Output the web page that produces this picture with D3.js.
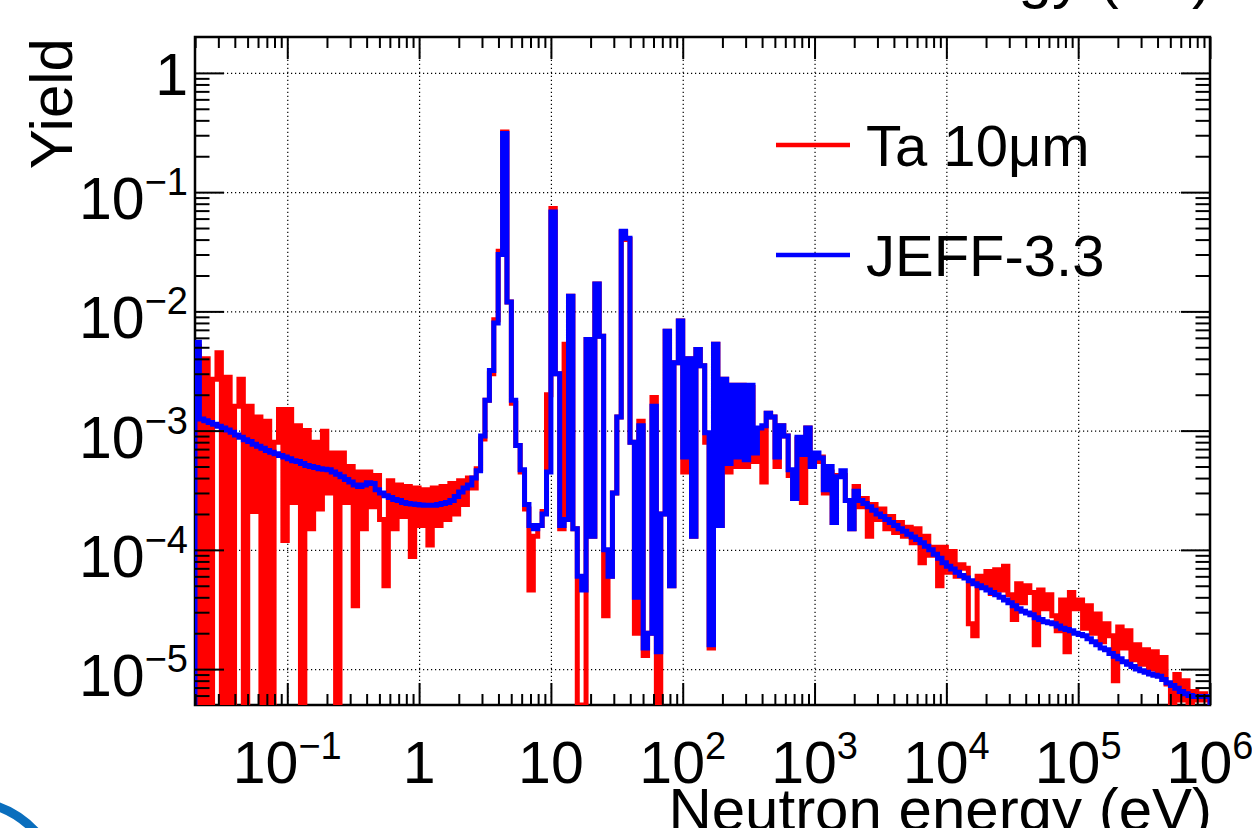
<!DOCTYPE html>
<html>
<head>
<meta charset="utf-8">
<script src="https://cdn.jsdelivr.net/npm/d3@7"></script>
<style>
html,body{margin:0;padding:0;background:#fff;}
svg{display:block;}
text{font-family:"Liberation Sans", Arial, Helvetica, sans-serif; fill:#000;}
</style>
</head>
<body>
<svg id="chart" width="1252" height="828"></svg>
<script>
// ---------- data ----------
const binsPerDecade = 30;          // log-uniform histogram binning
const logEnergyMin = -1.7;         // lower edge of first bin: 10^-1.7 eV
const energyMax = 1e6;
const yieldMin = 5e-6, yieldMax = 2;

// Ta 10um measurement (red), one value per bin
const taYield = [
  5.1e-3, 0, 4.0e-3, 0, 2.7e-3, 4.5e-3, 0, 2.8e-3, 0, 1.6e-3,
  2.7e-3, 0, 1.6e-3, 2.1e-4, 1.3e-3, 0, 1.2e-3, 0, 8e-4, 1.5e-3,
  1.2e-4, 1.5e-3, 2.5e-4, 1.1e-3, 0, 1.0e-3, 1.5e-4, 8e-4, 2.2e-4, 9.9e-4,
  3e-4, 6.5e-4, 0, 6.5e-4, 2.5e-4, 5e-4, 3.4e-5, 4.5e-4, 1.5e-4, 4.5e-4,
  2.3e-4, 4.2e-4, 1.8e-4, 5e-5, 3.8e-4, 1.5e-4, 3.5e-4, 1.9e-4, 3.4e-4, 8.8e-5,
  3.3e-4, 1.6e-4, 3.2e-4, 1.1e-4, 3.3e-4, 1.6e-4, 3.4e-4, 1.8e-4, 3.6e-4, 2.0e-4,
  3.8e-4, 2.4e-4, 4.0e-4, 3.3e-4, 4.8e-4, 8.5e-4, 1.8e-3, 3.0e-3, 8.5e-3, 3.2e-2,
  0.32, 1.2e-2, 1.7e-3, 7.5e-4, 4.5e-4, 2.2e-4, 4.6e-5, 1.3e-4, 1.6e-4, 2.1e-4,
  2.0e-3, 7.3e-2, 3e-3, 1.5e-4, 5.3e-3, 1.34e-2, 1.5e-4, 0, 0, 5.8e-3,
  1.3e-4, 1.7e-2, 6.2e-3, 2.8e-5, 6e-5, 3e-4, 1.3e-3, 4.6e-2, 4.0e-2, 8e-4,
  2.0e-5, 1.2e-3, 1.3e-5, 2e-5, 1.9e-3, 0, 2e-4, 6.8e-3, 5e-5, 3.7e-3,
  8.3e-3, 4.5e-4, 4e-3, 1.3e-4, 4.8e-3, 3.5e-3, 8e-4, 1.5e-5, 5.3e-3, 1.6e-4,
  2.7e-3, 4.5e-4, 2.4e-3, 5e-4, 2.4e-3, 5e-4, 2.3e-3, 5.5e-4, 1.0e-3, 3.7e-4,
  1.4e-3, 1.3e-3, 5e-4, 1.1e-3, 9e-4, 4.2e-4, 2.7e-4, 8.5e-4, 2.5e-4, 1.05e-3,
  5e-4, 5.5e-4, 6e-4, 3e-4, 4.5e-4, 1.7e-4, 4.2e-4, 4.2e-4, 2.6e-4, 1.5e-4,
  3.4e-4, 2.3e-4, 2.7e-4, 1.3e-4, 2.4e-4, 1.8e-4, 2.2e-4, 1.5e-4, 1.9e-4, 1.4e-4,
  1.7e-4, 1.3e-4, 1.55e-4, 1.15e-4, 1.5e-4, 7.8e-5, 1.3e-4, 9e-5, 1.05e-4, 5e-5,
  1.05e-4, 6.5e-5, 9.7e-5, 6e-5, 7.5e-5, 7e-5, 2.4e-5, 1.9e-5, 6e-5, 5e-5,
  6.6e-5, 4.3e-5, 6.8e-5, 4.6e-5, 7.3e-5, 4.2e-5, 2.6e-5, 5.2e-5, 3.6e-5, 5e-5,
  4.4e-5, 1.6e-5, 4.6e-5, 3.2e-5, 4.2e-5, 2.8e-5, 2.1e-5, 3.8e-5, 1.4e-5, 4.4e-5,
  3.2e-5, 3.8e-5, 2.2e-5, 3.4e-5, 2.0e-5, 2.9e-5, 1.7e-5, 2.4e-5, 1.9e-5, 8e-6,
  2.25e-5, 1.5e-5, 2.1e-5, 1.2e-5, 1.6e-5, 1.1e-5, 1.45e-5, 1.0e-5, 1.4e-5, 9.5e-6,
  1.25e-5, 7.5e-6, 0, 9e-6, 5.5e-6, 8e-6, 5e-6, 6.5e-6, 5.5e-6, 6.2e-6, 5.5e-6
];

// JEFF-3.3 evaluation (blue), one value per bin
const jeffYield = [
  5.5e-3, 1.25e-3, 1.21e-3, 1.17e-3, 1.13e-3, 1.09e-3, 1.05e-3, 1.01e-3, 9.7e-4, 9.2e-4,
  8.8e-4, 8.4e-4, 8.1e-4, 7.7e-4, 7.4e-4, 7.1e-4, 6.8e-4, 6.6e-4, 6.4e-4, 6.2e-4,
  6.0e-4, 5.8e-4, 5.6e-4, 5.5e-4, 5.3e-4, 5.1e-4, 5.0e-4, 4.9e-4, 4.8e-4, 4.75e-4,
  4.7e-4, 4.5e-4, 4.3e-4, 4.1e-4, 3.9e-4, 3.7e-4, 3.5e-4, 3.4e-4, 3.5e-4, 3.65e-4,
  3.6e-4, 3.2e-4, 3.0e-4, 2.85e-4, 2.75e-4, 2.65e-4, 2.6e-4, 2.5e-4, 2.45e-4, 2.42e-4,
  2.4e-4, 2.38e-4, 2.37e-4, 2.37e-4, 2.37e-4, 2.4e-4, 2.45e-4, 2.5e-4, 2.6e-4, 2.8e-4,
  3.05e-4, 3.3e-4, 3.5e-4, 4.0e-4, 4.6e-4, 9e-4, 1.8e-3, 3.2e-3, 8e-3, 3.0e-2,
  0.31, 1.2e-2, 1.8e-3, 7.5e-4, 4.7e-4, 2.4e-4, 1.6e-4, 1.5e-4, 1.6e-4, 2.0e-4,
  4.5e-4, 6.8e-2, 3e-3, 1.6e-4, 1.8e-4, 1.34e-2, 1.5e-4, 6e-5, 4.6e-5, 5.8e-3,
  1.3e-4, 1.7e-2, 6.2e-3, 1.0e-4, 6e-5, 3e-4, 1.3e-3, 4.7e-2, 4.1e-2, 8e-4,
  4e-5, 1.1e-3, 1.5e-5, 2e-5, 1.6e-3, 1.4e-5, 2e-4, 6.8e-3, 5e-5, 3.7e-3,
  8.3e-3, 6e-4, 4e-3, 1.3e-4, 4.8e-3, 3.5e-3, 9.6e-4, 1.6e-5, 5.3e-3, 1.6e-4,
  2.7e-3, 5.3e-4, 2.4e-3, 6e-4, 2.4e-3, 5.7e-4, 2.4e-3, 6.5e-4, 1.05e-3, 1.1e-3,
  1.4e-3, 1.3e-3, 6e-4, 1.1e-3, 9e-4, 4.7e-4, 2.7e-4, 8.8e-4, 6.3e-4, 1.05e-3,
  5e-4, 6.5e-4, 5.9e-4, 3.2e-4, 5e-4, 1.7e-4, 4.1e-4, 4.6e-4, 2.6e-4, 1.5e-4,
  3.1e-4, 2.6e-4, 2.45e-4, 2.3e-4, 2.15e-4, 2.0e-4, 1.9e-4, 1.8e-4, 1.7e-4, 1.6e-4,
  1.5e-4, 1.43e-4, 1.35e-4, 1.28e-4, 1.22e-4, 1.15e-4, 1.07e-4, 1.0e-4, 9.2e-5, 8.5e-5,
  7.8e-5, 7.3e-5, 6.9e-5, 6.5e-5, 6.1e-5, 5.8e-5, 5.5e-5, 5.2e-5, 5.0e-5, 4.8e-5,
  4.6e-5, 4.4e-5, 4.2e-5, 4.0e-5, 3.8e-5, 3.6e-5, 3.4e-5, 3.2e-5, 3.05e-5, 2.95e-5,
  2.85e-5, 2.7e-5, 2.6e-5, 2.5e-5, 2.45e-5, 2.4e-5, 2.3e-5, 2.2e-5, 2.15e-5, 2.1e-5,
  2.0e-5, 1.95e-5, 1.9e-5, 1.8e-5, 1.7e-5, 1.6e-5, 1.5e-5, 1.45e-5, 1.35e-5, 1.28e-5,
  1.22e-5, 1.15e-5, 1.1e-5, 1.05e-5, 1.0e-5, 9.7e-6, 9.4e-6, 9.1e-6, 8.9e-6, 8.7e-6,
  8.2e-6, 7.7e-6, 7.3e-6, 6.9e-6, 6.5e-6, 6.2e-6, 6.0e-6, 5.9e-6, 5.9e-6, 5.9e-6, 5.9e-6
];

const xTickValues = [0.1, 1, 10, 1e2, 1e3, 1e4, 1e5, 1e6];
const xTickLabels = ["10^\u22121", "1", "10", "10^2", "10^3", "10^4", "10^5", "10^6"];
const yTickValues = [1, 1e-1, 1e-2, 1e-3, 1e-4, 1e-5];
const yTickLabels = ["1", "10^\u22121", "10^\u22122", "10^\u22123", "10^\u22124", "10^\u22125"];
const seriesNames = ["Ta 10\u03bcm", "JEFF-3.3"];
const seriesColors = ["#ff0000", "#0000ff"];
const xTitle = "Neutron energy (eV)";
const yTitle = "Yield";

// ---------- layout ----------
const W = 1252, H = 828;
const F = {left: 195, right: 1210, top: 37, bottom: 705};
const FONT = 59, SUP = 38;

const svg = d3.select("#chart");
svg.append("rect").attr("width", W).attr("height", H).attr("fill", "#fff");

const x = d3.scaleLog().domain([Math.pow(10, logEnergyMin), energyMax]).range([F.left, F.right]);
const y = d3.scaleLog().domain([yieldMin, yieldMax]).range([F.bottom, F.top]);

const edges = d3.range(taYield.length + 1).map(i => Math.pow(10, logEnergyMin + i / binsPerDecade));

// minor tick values
const xMinor = [];
for (let d = -2; d <= 5; d++) for (let k = 2; k <= 9; k++) {
  const v = k * Math.pow(10, d);
  if (v > x.domain()[0] && v < x.domain()[1]) xMinor.push(v);
}
const yMinor = [];
for (let d = -6; d <= 0; d++) for (let k = 2; k <= 9; k++) {
  const v = k * Math.pow(10, d);
  if (v > yieldMin && v < yieldMax) yMinor.push(v);
}

// ---------- grid ----------
const gridStyle = g => {
  g.select(".domain").remove();
  g.selectAll("line").attr("stroke", "#000").attr("stroke-width", 1.2).attr("stroke-dasharray", "1.2,2.8");
};
svg.append("g").attr("transform", `translate(0,${F.bottom})`)
  .call(d3.axisBottom(x).tickValues(xTickValues.filter(v => v < energyMax)).tickSize(-(F.bottom - F.top)).tickFormat(""))
  .call(gridStyle);
svg.append("g").attr("transform", `translate(${F.left},0)`)
  .call(d3.axisLeft(y).tickValues(yTickValues).tickSize(-(F.right - F.left)).tickFormat(""))
  .call(gridStyle);

// ---------- frame ----------
svg.append("rect").attr("x", F.left).attr("y", F.top)
  .attr("width", F.right - F.left).attr("height", F.bottom - F.top)
  .attr("fill", "none").attr("stroke", "#000").attr("stroke-width", 2.5);

// ---------- histograms ----------
svg.append("clipPath").attr("id", "frameClip").append("rect")
  .attr("x", F.left).attr("y", F.top).attr("width", F.right - F.left).attr("height", F.bottom - F.top);

const line = d3.line()
  .x(d => x(d[0]))
  .y(d => y(Math.max(d[1], yieldMin)))
  .curve(d3.curveStepAfter);

function stepPoints(vals) {
  const n = vals.length;
  const pts = [[edges[0], yieldMin]];
  vals.forEach((v, i) => pts.push([edges[i], v]));
  pts.push([edges[n], vals[n - 1]]);
  pts.push([edges[n], yieldMin]);
  return pts;
}

const hg = svg.append("g").attr("clip-path", "url(#frameClip)");
[taYield, jeffYield].forEach((vals, i) => {
  hg.append("path").datum(stepPoints(vals))
    .attr("d", line)
    .attr("fill", "none")
    .attr("stroke", seriesColors[i])
    .attr("stroke-width", 5)
    .attr("stroke-linejoin", "miter")
    .attr("stroke-linecap", "butt");
});

// ---------- ticks ----------
function ticks(axisGen, transform, values, size) {
  svg.append("g").attr("transform", transform)
    .call(axisGen.tickValues(values).tickSize(-size).tickFormat(""))
    .call(g => g.select(".domain").remove())
    .selectAll("line").attr("stroke", "#000").attr("stroke-width", 2);
}
const xMajor = xTickValues;
ticks(d3.axisBottom(x), `translate(0,${F.bottom})`, xMajor, 22);
ticks(d3.axisBottom(x), `translate(0,${F.bottom})`, xMinor, 11);
ticks(d3.axisTop(x), `translate(0,${F.top})`, xMajor, 22);
ticks(d3.axisTop(x), `translate(0,${F.top})`, xMinor, 11);
ticks(d3.axisLeft(y), `translate(${F.left},0)`, yTickValues, 29);
ticks(d3.axisLeft(y), `translate(${F.left},0)`, yMinor, 14.5);
ticks(d3.axisRight(y), `translate(${F.right},0)`, yTickValues, 29);
ticks(d3.axisRight(y), `translate(${F.right},0)`, yMinor, 14.5);

// ---------- tick labels ----------
function powerText(g, label) {
  const parts = label.split("^");
  const t = g.append("text").attr("font-size", FONT);
  t.append("tspan").text(parts[0]);
  if (parts[1]) t.append("tspan").attr("font-size", SUP).attr("dy", -24).text(parts[1]);
  return t;
}
xTickValues.forEach((v, i) => {
  powerText(svg, xTickLabels[i]).attr("x", x(v)).attr("y", 783).attr("text-anchor", "middle");
});
yTickValues.forEach((v, i) => {
  const lab = yTickLabels[i];
  powerText(svg, lab).attr("x", 188).attr("y", y(v) + (lab.includes("^") ? 27 : 22)).attr("text-anchor", "end");
});

// ---------- axis titles ----------
svg.append("text").attr("x", 1212).attr("y", 830).attr("text-anchor", "end")
  .attr("font-size", 60).text(xTitle);
// cropped copy of the title at the very top (from the chart above on the slide)
svg.append("text").attr("x", 1212).attr("y", -3).attr("text-anchor", "end")
  .attr("font-size", 60).text(xTitle);
svg.append("text").attr("transform", `translate(72,${F.top + 1}) rotate(-90)`)
  .attr("text-anchor", "end").attr("font-size", 60).text(yTitle);

// ---------- legend ----------
const legendY = [145, 255];
seriesNames.forEach((name, i) => {
  svg.append("line").attr("x1", 776).attr("x2", 850).attr("y1", legendY[i]).attr("y2", legendY[i])
    .attr("stroke", seriesColors[i]).attr("stroke-width", 4.5);
  svg.append("text").attr("x", 866).attr("y", legendY[i] + 21).attr("font-size", 58).text(name);
});

// ---------- slide decoration (blue arc, bottom-left) ----------
svg.append("path").attr("d", "M -4 806 Q 18 813 36 832")
  .attr("fill", "none").attr("stroke", "#0a6ebd").attr("stroke-width", 9);
</script>
</body>
</html>
